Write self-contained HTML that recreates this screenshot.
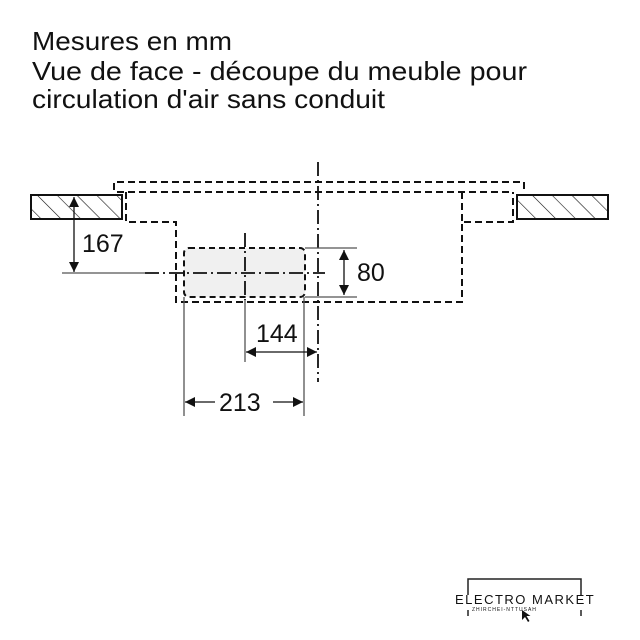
<!DOCTYPE html>
<html><head><meta charset="utf-8"><style>
html,body{margin:0;padding:0;background:#fff;width:640px;height:640px;overflow:hidden}
svg{display:block}
text{font-family:"Liberation Sans",Arial,sans-serif;fill:#111}
</style></head><body>
<svg width="640" height="640" viewBox="0 0 640 640" xmlns="http://www.w3.org/2000/svg">
<defs>
<pattern id="h" width="14" height="14" patternUnits="userSpaceOnUse" patternTransform="rotate(-45)">
<line x1="0" y1="0" x2="0" y2="14" stroke="#111" stroke-width="1.2"/>
</pattern>
<marker id="a" viewBox="0 0 10 10" refX="10" refY="5" markerWidth="10" markerHeight="10" markerUnits="userSpaceOnUse" orient="auto-start-reverse"><path d="M0,0 L10,5 L0,10 z" fill="#111"/></marker>
</defs>
<text x="32" y="50" font-size="26" textLength="200" lengthAdjust="spacingAndGlyphs">Mesures en mm</text>
<text x="32" y="80" font-size="26" textLength="495" lengthAdjust="spacingAndGlyphs">Vue de face - découpe du meuble pour</text>
<text x="32" y="108" font-size="26" textLength="353" lengthAdjust="spacingAndGlyphs">circulation d'air sans conduit</text>

<rect x="31" y="195" width="91" height="24" fill="url(#h)" stroke="#111" stroke-width="2"/>
<rect x="517" y="195" width="91" height="24" fill="url(#h)" stroke="#111" stroke-width="2"/>

<rect x="184" y="248" width="121" height="49" rx="5" fill="#f0f0f0" stroke="#111" stroke-width="2" stroke-dasharray="6,4"/>

<g fill="none" stroke="#111" stroke-width="2" stroke-dasharray="7,4">
<polyline points="114,190 114,182 524,182 524,190"/>
<polyline points="117,192 513,192"/>
<polyline points="126,192 126,222 176,222 176,302 462,302 462,222 513,222 513,192"/>
<line x1="462" y1="192" x2="462" y2="222"/>
</g>

<g fill="none" stroke="#111" stroke-width="1.8" stroke-dasharray="14,4,2,4">
<line x1="318" y1="162" x2="318" y2="382"/>
<line x1="245" y1="233" x2="245" y2="300"/>
<line x1="145" y1="273" x2="325" y2="273"/>
</g>

<g stroke="#555" stroke-width="1.3" fill="none">
<line x1="62" y1="273" x2="145" y2="273"/>
<line x1="305" y1="248" x2="357" y2="248"/>
<line x1="305" y1="297" x2="357" y2="297"/>
<line x1="184" y1="297" x2="184" y2="416"/>
<line x1="304" y1="297" x2="304" y2="416"/>
<line x1="245" y1="300" x2="245" y2="362"/>
</g>
<g stroke="#111" stroke-width="1.3">
<line x1="74" y1="272" x2="74" y2="197" marker-end="url(#a)" marker-start="url(#a)"/>
<line x1="344" y1="250" x2="344" y2="295" marker-end="url(#a)" marker-start="url(#a)"/>
<line x1="246" y1="352" x2="317" y2="352" marker-end="url(#a)" marker-start="url(#a)"/>
<line x1="185" y1="402" x2="215" y2="402" marker-start="url(#a)"/>
<line x1="273" y1="402" x2="303" y2="402" marker-end="url(#a)"/>
</g>
<text x="82" y="252" font-size="25">167</text>
<text x="357" y="281" font-size="25">80</text>
<text x="256" y="342" font-size="25">144</text>
<text x="219" y="411" font-size="25">213</text>

<g stroke="#222" stroke-width="1.5" fill="none">
<polyline points="468,595 468,579 581,579 581,595"/>
<line x1="468" y1="610" x2="468" y2="616"/>
<line x1="581" y1="610" x2="581" y2="616"/>
</g>
<text x="455" y="604" font-size="13" letter-spacing="1.5">ELECTRO MARKET</text>
<text x="472" y="611" font-size="5" letter-spacing="1" fill="#555">ZHIRCHEI-NTTUSAH</text>
<path d="M522,610 l0,10 l3,-3 l3,5 l1.5,-1 l-3,-5 l4,0 z" fill="#111"/>
</svg>
</body></html>
